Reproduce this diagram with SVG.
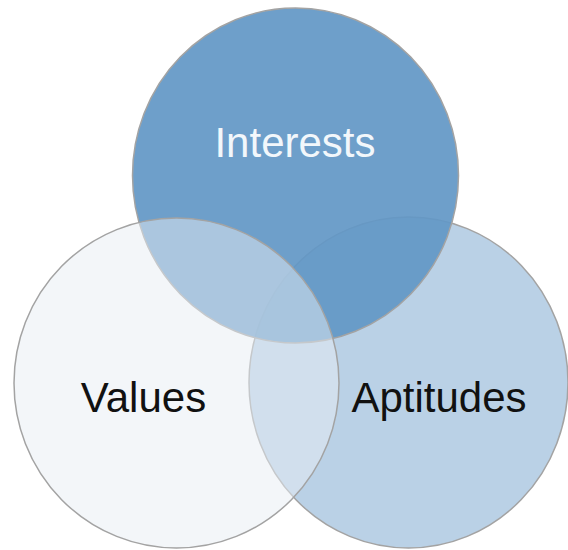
<svg xmlns="http://www.w3.org/2000/svg" width="568" height="550" viewBox="0 0 568 550">
  <style>
    .circ { stroke: #a3a3a3; stroke-width: 1.5; }
    .lbl { font-family: "Liberation Sans", Arial, Helvetica, sans-serif; font-size: 42px; text-anchor: middle; }
  </style>
  <rect width="568" height="550" fill="#ffffff"/>
  <g id="aptitudes">
    <ellipse class="circ" cx="408.5" cy="382.5" rx="159.5" ry="165.5" fill="#bad1e6"/>
  </g>
  <g id="interests">
    <ellipse class="circ" cx="295.5" cy="175.5" rx="163" ry="167.5" fill="#6297c5" fill-opacity="0.92"/>
  </g>
  <g id="values">
    <ellipse class="circ" cx="176.5" cy="383" rx="162.5" ry="165" fill="#e7edf3" fill-opacity="0.5"/>
  </g>
  <g id="labels">
    <text class="lbl" x="295" y="157" fill="#f2f7fb">Interests</text>
    <text class="lbl" x="143.5" y="412" fill="#111111">Values</text>
    <text class="lbl" x="439" y="412" fill="#111111">Aptitudes</text>
  </g>
</svg>
